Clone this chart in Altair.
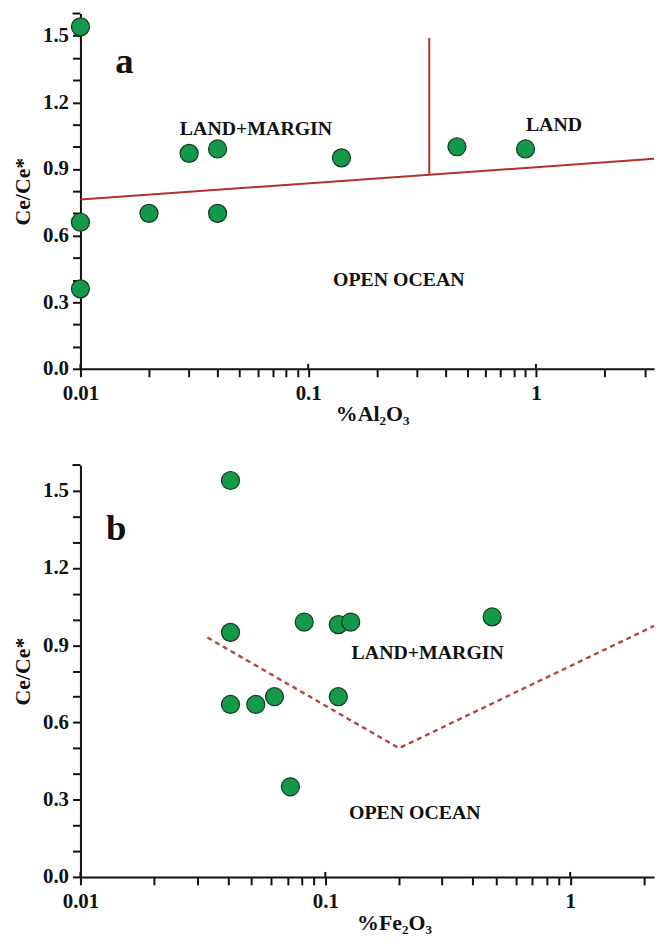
import altair as alt
import pandas as pd

# ---------------- data ----------------
# panel a : Ce/Ce* vs %Al2O3
al_x = [0.01, 0.01, 0.01, 0.02, 0.03, 0.04, 0.04, 0.14, 0.45, 0.90]
al_y = [1.54, 0.66, 0.36, 0.70, 0.97, 0.99, 0.70, 0.95, 1.00, 0.99]
# panel b : Ce/Ce* vs %Fe2O3
fe_x = [0.041, 0.041, 0.041, 0.052, 0.062, 0.072, 0.082, 0.113, 0.127, 0.113, 0.48]
fe_y = [1.54, 0.95, 0.67, 0.67, 0.70, 0.35, 0.99, 0.98, 0.99, 0.70, 1.01]

# boundary lines
a_seg_x = [0.01, 0.34]
a_seg_y = [0.762, 0.875]
a_seg_x2 = [3.3, 0.34]
a_seg_y2 = [0.946, 1.49]
b_line_x = [0.033, 0.2, 2.2]
b_line_y = [0.93, 0.50, 0.975]

# field labels
a_lab_text = ["a", "LAND+MARGIN", "LAND", "OPEN OCEAN"]
a_lab_x = [0.0156, 0.059, 1.2, 0.25]
a_lab_y = [1.33, 1.054, 1.071, 0.371]
b_lab_text = ["b", "LAND+MARGIN", "OPEN OCEAN"]
b_lab_x = [0.014, 0.262, 0.232]
b_lab_y = [1.31, 0.847, 0.223]

# axes
x_tick_values = [0.01, 0.02, 0.03, 0.04, 0.05, 0.06, 0.07, 0.08, 0.09,
                 0.1, 0.2, 0.3, 0.4, 0.5, 0.6, 0.7, 0.8, 0.9,
                 1, 2, 3]
x_decades = [0.01, 0.1, 1]
y_tick_values = [0.0, 0.1, 0.2, 0.3, 0.4, 0.5, 0.6, 0.7, 0.8, 0.9,
                 1.0, 1.1, 1.2, 1.3, 1.4, 1.5]
y_top = [1.6]

FONT = "Liberation Serif"
GREEN = "#12994a"
DOT_STROKE = "#17361f"
RED = "#b3302b"
INK = "#111111"
W = 578
HA = 358
HB = 415
TICK = 8

x_label_expr = ("datum.value == 0.01 ? '0.01' : datum.value == 0.1 ? '0.1' : "
                "datum.value == 1 ? '1' : ''")
y_label_expr = "(round(datum.value * 10) % 3 == 0) ? format(datum.value, '.1f') : ''"


def panel(px, py, xmax, height, xtitle, title_pad, title_x, lines, labels):
    pts = pd.DataFrame({"x": px, "y": py})
    xs = alt.Scale(type="log", domain=[0.01, xmax], nice=False)
    ys = alt.Scale(domain=[0, 1.6], nice=False)
    xa = alt.Axis(values=x_tick_values, labelExpr=x_label_expr, title=xtitle,
                  titlePadding=title_pad, titleX=title_x, titleAnchor="start",
                  titleAlign="center", labelOverlap=False, labelFlush=False,
                  grid=False)
    ya = alt.Axis(values=y_tick_values, labelExpr=y_label_expr, title="Ce/Ce*",
                  titlePadding=8, labelOverlap=False, labelFlush=False, grid=False)

    nx = lambda f="x:Q": alt.X(f, scale=xs, axis=xa, title=xtitle)
    ny = lambda f="y:Q": alt.Y(f, scale=ys, axis=ya, title="Ce/Ce*")

    dots = alt.Chart(pts).mark_circle(size=330, color=GREEN, opacity=1,
                                      stroke=DOT_STROKE, strokeWidth=1.2).encode(
        x=nx(), y=ny())

    dec = pd.DataFrame({"x": x_decades})
    up_ticks = alt.Chart(dec).mark_rule(color=INK, strokeWidth=2).encode(
        x=nx(), y=alt.value(height), y2=alt.value(height - 5))
    top = pd.DataFrame({"y": y_top})
    top_tick = alt.Chart(top).mark_rule(color=INK, strokeWidth=2).encode(
        y=ny(), x=alt.value(0), x2=alt.value(-TICK))

    lab = pd.DataFrame({"x": labels[1], "y": labels[2], "t": labels[0]})
    lab["size"] = [37 if len(t) == 1 else 20 for t in labels[0]]
    texts = alt.Chart(lab).mark_text(font=FONT, fontWeight="bold", color=INK,
                                     baseline="alphabetic", align="center").encode(
        x=nx(), y=ny(), text="t:N",
        size=alt.Size("size:Q", scale=None, legend=None))

    return alt.layer(dots, up_ticks, top_tick, *lines(nx, ny), texts).properties(
        width=W, height=height)


def lines_a(nx, ny):
    seg = pd.DataFrame({"x": a_seg_x, "y": a_seg_y, "x2": a_seg_x2, "y2": a_seg_y2})
    return [alt.Chart(seg).mark_rule(color=RED, strokeWidth=2).encode(
        x=nx(), y=ny(), x2="x2:Q", y2="y2:Q")]


def lines_b(nx, ny):
    ln = pd.DataFrame({"x": b_line_x, "y": b_line_y, "o": list(range(len(b_line_x)))})
    return [alt.Chart(ln).mark_line(color="#b5453f", strokeWidth=2.4,
                                    strokeDash=[5, 4]).encode(
        x=nx(), y=ny(), order="o:Q")]


pa = panel(al_x, al_y, 3.3, HA, "%Al₂O₃", 0, 294, lines_a,
           (a_lab_text, a_lab_x, a_lab_y))
pb = panel(fe_x, fe_y, 2.2, HB, "%Fe₂O₃", 1, 316, lines_b,
           (b_lab_text, b_lab_x, b_lab_y))

chart = alt.vconcat(pa, pb, spacing=40).properties(
    padding={"left": 3, "top": 1, "right": 0, "bottom": 0}
).configure_view(stroke=None).configure_axis(
    labelFont=FONT, labelFontWeight="bold", labelFontSize=21, labelColor=INK,
    titleFont=FONT, titleFontWeight="bold", titleFontSize=22, titleColor=INK,
    domainColor=INK, domainWidth=2, tickColor=INK, tickWidth=2,
    tickSize=TICK, labelPadding=4,
).configure_axisX(labelPadding=6)

chart.save("out.html", embed_options={"renderer": "svg", "actions": False})
